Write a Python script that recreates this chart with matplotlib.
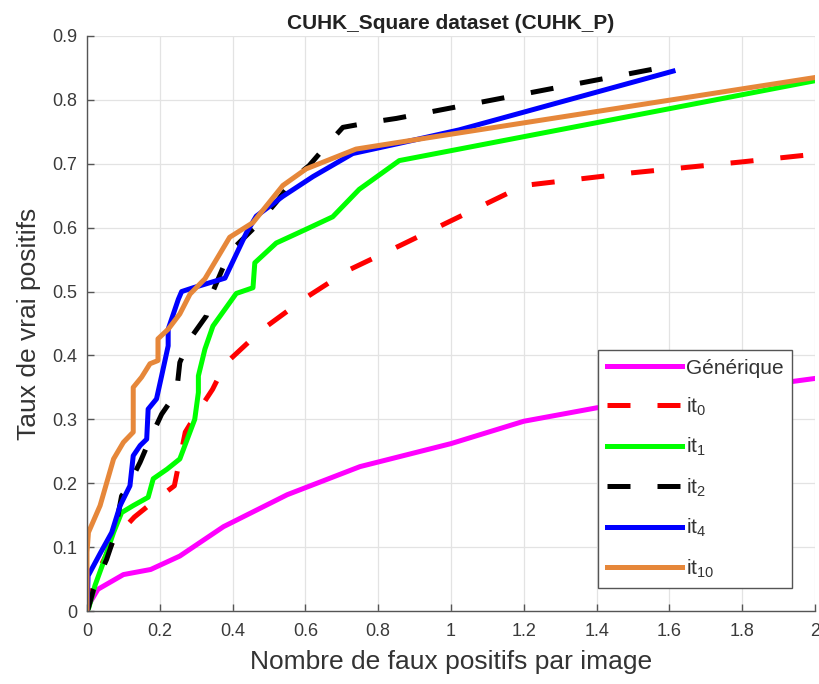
import matplotlib
matplotlib.use("Agg")
import matplotlib.pyplot as plt

plt.rcParams['font.family'] = ['Liberation Sans', 'DejaVu Sans']
plt.rcParams['mathtext.default'] = 'regular'

# Detection curves: false positives per image vs. true positive rate
gen_x = [0, 0.005, 0.03, 0.1, 0.175, 0.255, 0.375, 0.55, 0.75, 1.0, 1.2, 1.4, 2.0]
gen_y = [0, 0.01, 0.034, 0.057, 0.065, 0.086, 0.132, 0.182, 0.226, 0.262, 0.297, 0.318, 0.364]

it0_x = [0, 0.02, 0.075, 0.13, 0.18, 0.24, 0.255, 0.27, 0.3, 0.345, 0.38, 0.48, 0.6,
         0.72, 0.86, 0.99, 1.2, 1.5, 1.8, 2.0]
it0_y = [0, 0.05, 0.113, 0.147, 0.17, 0.196, 0.238, 0.28, 0.308, 0.347, 0.387, 0.44, 0.49,
         0.534, 0.572, 0.608, 0.666, 0.686, 0.703, 0.715]

it1_x = [0, 0.005, 0.022, 0.045, 0.073, 0.095, 0.127, 0.168, 0.182, 0.22, 0.255, 0.296,
         0.306, 0.306, 0.324, 0.346, 0.41, 0.456, 0.461, 0.52, 0.60, 0.675, 0.748, 0.858, 2.0]
it1_y = [0, 0.005, 0.04, 0.076, 0.123, 0.154, 0.165, 0.178, 0.207, 0.222, 0.238, 0.3,
         0.342, 0.368, 0.41, 0.446, 0.497, 0.506, 0.545, 0.576, 0.597, 0.617, 0.66, 0.705, 0.83]

it2_x = [0, 0.003, 0.018, 0.054, 0.073, 0.095, 0.109, 0.146, 0.173, 0.205, 0.246, 0.255,
         0.283, 0.328, 0.342, 0.374, 0.41, 0.465, 0.52, 0.575, 0.61, 0.657, 0.703, 0.78,
         0.85, 1.6]
it2_y = [0, 0.003, 0.034, 0.081, 0.113, 0.18, 0.191, 0.233, 0.269, 0.308, 0.342, 0.389,
         0.426, 0.462, 0.495, 0.538, 0.572, 0.603, 0.64, 0.681, 0.697, 0.728, 0.757, 0.765,
         0.771, 0.853]

it4_x = [0, 0.003, 0.036, 0.068, 0.091, 0.118, 0.127, 0.146, 0.164, 0.168, 0.191, 0.205,
         0.223, 0.223, 0.251, 0.26, 0.292, 0.379, 0.438, 0.465, 0.538, 0.621, 0.73, 0.858,
         1.022, 1.61]
it4_y = [0, 0.055, 0.09, 0.123, 0.165, 0.196, 0.243, 0.259, 0.269, 0.316, 0.332, 0.368,
         0.415, 0.441, 0.488, 0.5, 0.506, 0.521, 0.592, 0.618, 0.649, 0.68, 0.716, 0.732,
         0.753, 0.845]

it10_x = [0, 0, 0.004, 0.036, 0.073, 0.1, 0.127, 0.127, 0.15, 0.173, 0.195, 0.195, 0.223,
          0.255, 0.283, 0.324, 0.392, 0.456, 0.538, 0.602, 0.739, 0.85, 2.0]
it10_y = [0, 0.092, 0.123, 0.165, 0.238, 0.264, 0.28, 0.35, 0.366, 0.387, 0.392, 0.426,
          0.441, 0.465, 0.496, 0.52, 0.585, 0.608, 0.666, 0.692, 0.723, 0.733, 0.835]

x_ticks = [0, 0.2, 0.4, 0.6, 0.8, 1, 1.2, 1.4, 1.6, 1.8, 2]
x_tick_labels = ['0', '0.2', '0.4', '0.6', '0.8', '1', '1.2', '1.4', '1.6', '1.8', '2']
y_ticks = [0, 0.1, 0.2, 0.3, 0.4, 0.5, 0.6, 0.7, 0.8, 0.9]
y_tick_labels = ['0', '0.1', '0.2', '0.3', '0.4', '0.5', '0.6', '0.7', '0.8', '0.9']

fig = plt.figure(figsize=(8.19, 6.84), dpi=100)
ax = fig.add_axes([87 / 819, 1 - 611 / 684, 728 / 819, 575 / 684])

lw = 3.6
dash = (4.6, 5.4)
ax.plot(gen_x, gen_y, color='#ff00ff', lw=lw, label='Générique', solid_joinstyle='round')
ax.plot(it0_x, it0_y, color='#ff0000', lw=lw, dashes=dash, label='it$_{0}$')
ax.plot(it1_x, it1_y, color='#00ff00', lw=lw, label='it$_{1}$', solid_joinstyle='round')
ax.plot(it2_x, it2_y, color='#000000', lw=lw, dashes=dash, label='it$_{2}$')
ax.plot(it4_x, it4_y, color='#0000ff', lw=lw, label='it$_{4}$', solid_joinstyle='round')
ax.plot(it10_x, it10_y, color='#e6873a', lw=lw, label='it$_{10}$', solid_joinstyle='round')

ax.set_xlim(0, 2)
ax.set_ylim(0, 0.9)
ax.set_xticks(x_ticks)
ax.set_xticklabels(x_tick_labels)
ax.set_yticks(y_ticks)
ax.set_yticklabels(y_tick_labels)

ax.grid(True, color='#e3e3e3', lw=0.9)
ax.set_axisbelow(True)
for s in ['top', 'right']:
    ax.spines[s].set_visible(False)
for s in ['left', 'bottom']:
    ax.spines[s].set_color('#555555')
    ax.spines[s].set_linewidth(1.0)
ax.tick_params(direction='in', length=5, width=1, color='#555555',
               labelsize=13, labelcolor='#3a3a3a')
ax.tick_params(axis='x', pad=9)
ax.tick_params(axis='y', pad=7)

ax.set_xlabel('Nombre de faux positifs par image', fontsize=19, color='#333333', labelpad=7)
ax.set_ylabel('Taux de vrai positifs', fontsize=19, color='#333333', labelpad=8)
ax.set_title('CUHK_Square dataset (CUHK_P)', fontsize=15, fontweight='bold',
             color='#222222', pad=5)

leg = ax.legend(loc='lower right', bbox_to_anchor=(0.968, 0.04), borderaxespad=0,
                fontsize=15, handlelength=3.6, handletextpad=0.2, labelspacing=0.87,
                fancybox=False, framealpha=1, edgecolor='#555555', borderpad=0.4)
leg.get_frame().set_linewidth(1.0)
for t in leg.get_texts():
    t.set_color('#333333')

fig.savefig('out.png', dpi=100, facecolor='white')
